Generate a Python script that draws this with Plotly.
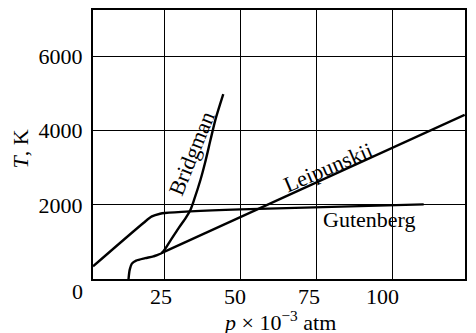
import plotly.graph_objects as go

# ---- data (p in 10^3 atm, T in K) ----
gut_p = [1.5, 18.1, 20.9, 23.6, 25.2, 50.0, 110.4]
gut_T = [342, 1512, 1690, 1762, 1781, 1878, 2013]

bri_p = [13.2, 13.6, 14.3, 15.7, 18.7, 21.4, 24.2, 27.2, 29.8, 32.1, 33.6, 34.8, 36.9, 38.4, 40.2, 41.8, 44.4]
bri_T = [0, 253, 415, 496, 563, 612, 705, 1062, 1385, 1655, 1870, 2140, 2679, 3137, 3756, 4296, 4988]

lei_p = [24.0, 123.9]
lei_T = [700, 4430]

x_ticks = [25, 50, 75, 100, 125]
x_tick_text = ["25", "50", "75", "100", "125"]
x_tick_shift = [-3, -5, -7, -10, -10]
y_ticks = [2000, 4000, 6000]
y_tick_text = ["2000", "4000", "6000"]

FONT = "Liberation Serif"
LW = 2.4

fig = go.Figure()
for px, ty in [(gut_p, gut_T), (bri_p, bri_T), (lei_p, lei_T)]:
    fig.add_trace(go.Scatter(x=px, y=ty, mode="lines",
                             line=dict(color="black", width=LW, shape="spline", smoothing=0.8),
                             showlegend=False, hoverinfo="skip"))

txt = dict(family=FONT, size=22, color="black")
annotations = []
for v, t, s in zip(x_ticks, x_tick_text, x_tick_shift):
    annotations.append(dict(x=v, y=0, xref="x", yref="paper", text=t, showarrow=False,
                            xanchor="center", yanchor="middle", xshift=s, yshift=-17,
                            font=txt))
annotations.append(dict(x=0, y=0, xref="paper", yref="y", text="0", showarrow=False,
                        xanchor="center", yanchor="middle", xshift=-16, yshift=-12,
                        font=txt))
# axis titles
annotations.append(dict(x=0.5, y=0, xref="paper", yref="paper",
                        text="<i>p</i> × 10<sup>−3</sup> atm", showarrow=False,
                        xanchor="center", yanchor="middle", yshift=-42, font=txt))
annotations.append(dict(x=0, y=0.5, xref="paper", yref="paper",
                        text="<i>T</i>, K", showarrow=False, textangle=-90,
                        xanchor="center", yanchor="middle", xshift=-73, yshift=-5, font=txt))
# curve labels
annotations += [
    dict(x=34.0, y=3380, text="Bridgman", textangle=-68, showarrow=False, font=txt),
    dict(x=78.8, y=3010, text="Leipunskii", textangle=-23, showarrow=False, font=txt),
    dict(x=92.4, y=1609, text="Gutenberg", showarrow=False, font=txt),
]

fig.update_layout(
    width=476, height=333,
    margin=dict(l=93, r=11, t=10, b=54, autoexpand=False),
    paper_bgcolor="white", plot_bgcolor="white",
    font=txt,
    annotations=annotations,
)
fig.update_xaxes(range=[1.5, 124], tickvals=x_ticks, showticklabels=False,
                 showgrid=True, gridcolor="black", gridwidth=1.3,
                 showline=True, linecolor="black", linewidth=2.2, mirror=True,
                 zeroline=False, ticks="", automargin=False)
fig.update_yaxes(range=[0, 7260], tickvals=y_ticks, ticktext=y_tick_text,
                 showgrid=True, gridcolor="black", gridwidth=1.3,
                 showline=True, linecolor="black", linewidth=2.2, mirror=True,
                 zeroline=False, ticks="", ticklabelstandoff=4, automargin=False,
                 tickfont=txt)

fig.write_html("out.html", config={"displayModeBar": False},
               post_script="document.body.style.margin='0';document.body.style.padding='0';")
